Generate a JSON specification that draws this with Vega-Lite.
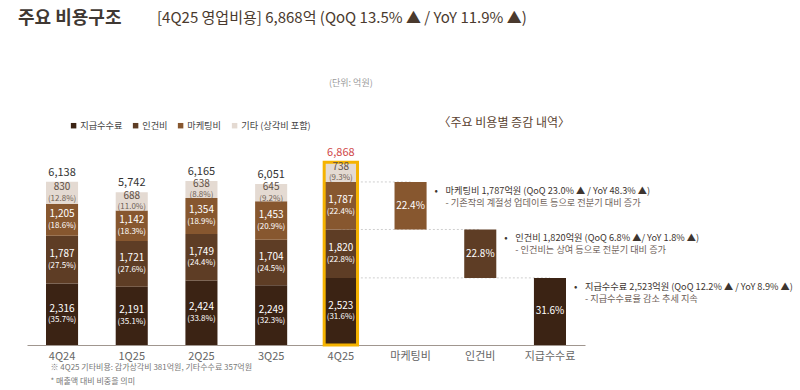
{
  "$schema": "https://vega.github.io/schema/vega-lite/v6.json",
  "width": 558,
  "height": 266,
  "autosize": {"type": "none"},
  "padding": {"left": 27, "top": 79, "right": 215, "bottom": 45},
  "background": "white",
  "config": {"view": {"stroke": null}, "font": "Noto Sans CJK KR"},
  "title": {
    "text": "주요 비용구조",
    "anchor": "start",
    "frame": "group",
    "dx": -9,
    "offset": -17,
    "fontSize": 18,
    "fontWeight": "bold",
    "color": "#3f3833",
    "font": "Noto Sans CJK KR"
  },
  "datasets": {
    "costs": [
      {"cat": "4Q24", "type": "지급수수료", "value": 2316, "pct": "(35.7%)"},
      {"cat": "4Q24", "type": "인건비", "value": 1787, "pct": "(27.5%)"},
      {"cat": "4Q24", "type": "마케팅비", "value": 1205, "pct": "(18.6%)"},
      {"cat": "4Q24", "type": "기타", "value": 830, "pct": "(12.8%)"},
      {"cat": "1Q25", "type": "지급수수료", "value": 2191, "pct": "(35.1%)"},
      {"cat": "1Q25", "type": "인건비", "value": 1721, "pct": "(27.6%)"},
      {"cat": "1Q25", "type": "마케팅비", "value": 1142, "pct": "(18.3%)"},
      {"cat": "1Q25", "type": "기타", "value": 688, "pct": "(11.0%)"},
      {"cat": "2Q25", "type": "지급수수료", "value": 2424, "pct": "(33.8%)"},
      {"cat": "2Q25", "type": "인건비", "value": 1749, "pct": "(24.4%)"},
      {"cat": "2Q25", "type": "마케팅비", "value": 1354, "pct": "(18.9%)"},
      {"cat": "2Q25", "type": "기타", "value": 638, "pct": "(8.8%)"},
      {"cat": "3Q25", "type": "지급수수료", "value": 2249, "pct": "(32.3%)"},
      {"cat": "3Q25", "type": "인건비", "value": 1704, "pct": "(24.5%)"},
      {"cat": "3Q25", "type": "마케팅비", "value": 1453, "pct": "(20.9%)"},
      {"cat": "3Q25", "type": "기타", "value": 645, "pct": "(9.2%)"},
      {"cat": "4Q25", "type": "지급수수료", "value": 2523, "pct": "(31.6%)"},
      {"cat": "4Q25", "type": "인건비", "value": 1820, "pct": "(22.8%)"},
      {"cat": "4Q25", "type": "마케팅비", "value": 1787, "pct": "(22.4%)"},
      {"cat": "4Q25", "type": "기타", "value": 738, "pct": "(9.3%)"}
    ],
    "changes": [
      {"cat": "마케팅비", "type": "마케팅비", "value": 1787, "pct": "22.4%", "head": "마케팅비 1,787억원 (QoQ 23.0% ▲ / YoY 48.3% ▲)", "note": "- 기존작의 계절성 업데이트 등으로 전분기 대비 증가"},
      {"cat": "인건비", "type": "인건비", "value": 1820, "pct": "22.8%", "head": "인건비 1,820억원 (QoQ 6.8% ▲/ YoY 1.8% ▲)", "note": "- 인건비는 상여 등으로 전분기 대비 증가"},
      {"cat": "지급수수료", "type": "지급수수료", "value": 2523, "pct": "31.6%", "head": "지급수수료 2,523억원 (QoQ 12.2% ▲ / YoY 8.9% ▲)", "note": "- 지급수수료율 감소 추세 지속"}
    ]
  },
  "encoding": {
    "x": {
      "field": "cat",
      "type": "nominal",
      "scale": {
        "domain": ["4Q24", "1Q25", "2Q25", "3Q25", "4Q25", "마케팅비", "인건비", "지급수수료"],
        "paddingInner": 0.54,
        "paddingOuter": 0.2726
      },
      "title": ["※ 4Q25 기타비용: 감가상각비 381억원, 기타수수료 357억원", "* 매출액 대비 비중을 의미"],
      "axis": {
        "labelAngle": 0,
        "ticks": false,
        "domainColor": "#a0968f",
        "domainWidth": 1,
        "labelColor": "#666666",
        "labelFontSize": 11,
        "labelPadding": 5,
        "titleAnchor": "start",
        "titleAlign": "left",
        "titleBaseline": "top",
        "titleX": 23,
        "titleY": 18,
        "titleFontSize": 8,
        "titleFontWeight": "normal",
        "titleColor": "#777777",
        "titleLineHeight": 14
      }
    }
  },
  "layer": [
    {
      "data": {"name": "changes"},
      "transform": [
        {"stack": "value", "groupby": [], "sort": [{"field": "type", "order": "descending"}], "as": ["y0", "y1"]}
      ],
      "mark": {"type": "rule", "color": "#cfcfcf", "strokeDash": [2, 2], "strokeWidth": 1},
      "encoding": {
        "x": {"datum": "4Q25", "type": "nominal"},
        "x2": {"field": "cat"},
        "y": {"field": "y1", "type": "quantitative", "scale": {"domain": [0, 10000], "nice": false}, "axis": null}
      }
    },
    {
      "data": {"name": "costs"},
      "transform": [
        {"stack": "value", "groupby": ["cat"], "sort": [{"field": "type", "order": "descending"}], "as": ["y0", "y1"]}
      ],
      "mark": {"type": "bar"},
      "encoding": {
        "y": {"field": "y0", "type": "quantitative", "scale": {"domain": [0, 10000], "nice": false}, "axis": null},
        "y2": {"field": "y1"},
        "color": {
          "field": "type",
          "type": "nominal",
          "scale": {
            "domain": ["지급수수료", "인건비", "마케팅비", "기타"],
            "range": ["#3b2314", "#5e3d25", "#87572f", "#e4dad2"]
          },
          "legend": {
            "orient": "none",
            "legendX": 42,
            "legendY": 42,
            "direction": "horizontal",
            "title": null,
            "symbolType": "square",
            "symbolSize": 30,
            "symbolStrokeWidth": 0,
            "labelFontSize": 9.2,
            "labelColor": "#444444",
            "columnPadding": 8,
            "labelOffset": 2,
            "labelExpr": "datum.label === '기타' ? '기타 (상각비 포함)' : datum.label"
          }
        }
      }
    },
    {
      "data": {"name": "changes"},
      "transform": [
        {"stack": "value", "groupby": [], "sort": [{"field": "type", "order": "descending"}], "as": ["y0", "y1"]}
      ],
      "mark": {"type": "bar"},
      "encoding": {
        "y": {"field": "y0", "type": "quantitative", "scale": {"domain": [0, 10000], "nice": false}, "axis": null},
        "y2": {"field": "y1"},
        "color": {"field": "type", "type": "nominal"}
      }
    },
    {
      "data": {"name": "costs"},
      "transform": [
        {"filter": "datum.cat === '4Q25'"},
        {"aggregate": [{"op": "sum", "field": "value", "as": "total"}], "groupby": ["cat"]}
      ],
      "mark": {"type": "bar", "fill": "white", "fillOpacity": 0, "stroke": "#f5b301", "strokeWidth": 3, "width": {"band": 1.04}},
      "encoding": {
        "y": {"field": "total", "type": "quantitative", "scale": {"domain": [0, 10000], "nice": false}, "axis": null}
      }
    },
    {
      "data": {"name": "costs"},
      "transform": [
        {"stack": "value", "groupby": ["cat"], "sort": [{"field": "type", "order": "descending"}], "as": ["y0", "y1"]},
        {"fold": ["y0", "y1"], "as": ["k", "v"]},
        {"aggregate": [{"op": "mean", "field": "v", "as": "mid"}], "groupby": ["cat", "type", "value", "pct"]}
      ],
      "mark": {"type": "text", "fontSize": 10, "dy": -5.5, "baseline": "middle"},
      "encoding": {
        "y": {"field": "mid", "type": "quantitative", "scale": {"domain": [0, 10000], "nice": false}, "axis": null},
        "text": {"field": "value", "type": "quantitative", "format": ","},
        "color": {"condition": {"test": "datum.type === '기타'", "value": "#5e4f45"}, "value": "#ffffff"}
      }
    },
    {
      "data": {"name": "costs"},
      "transform": [
        {"stack": "value", "groupby": ["cat"], "sort": [{"field": "type", "order": "descending"}], "as": ["y0", "y1"]},
        {"fold": ["y0", "y1"], "as": ["k", "v"]},
        {"aggregate": [{"op": "mean", "field": "v", "as": "mid"}], "groupby": ["cat", "type", "value", "pct"]}
      ],
      "mark": {"type": "text", "fontSize": 8, "dy": 6, "baseline": "middle"},
      "encoding": {
        "y": {"field": "mid", "type": "quantitative", "scale": {"domain": [0, 10000], "nice": false}, "axis": null},
        "text": {"field": "pct", "type": "nominal"},
        "color": {"condition": {"test": "datum.type === '기타'", "value": "#6e5f55"}, "value": "#ffffff"}
      }
    },
    {
      "data": {"name": "costs"},
      "transform": [
        {"aggregate": [{"op": "sum", "field": "value", "as": "total"}], "groupby": ["cat"]}
      ],
      "mark": {"type": "text", "fontSize": 11, "dy": -4, "baseline": "bottom"},
      "encoding": {
        "y": {"field": "total", "type": "quantitative", "scale": {"domain": [0, 10000], "nice": false}, "axis": null},
        "text": {"field": "total", "type": "quantitative", "format": ","},
        "color": {"condition": {"test": "datum.cat === '4Q25'", "value": "#d04848"}, "value": "#333333"}
      }
    },
    {
      "data": {"name": "changes"},
      "transform": [
        {"stack": "value", "groupby": [], "sort": [{"field": "type", "order": "descending"}], "as": ["y0", "y1"]},
        {"fold": ["y0", "y1"], "as": ["k", "v"]},
        {"aggregate": [{"op": "mean", "field": "v", "as": "mid"}], "groupby": ["cat", "pct"]}
      ],
      "mark": {"type": "text", "fontSize": 10, "color": "#ffffff", "baseline": "middle"},
      "encoding": {
        "y": {"field": "mid", "type": "quantitative", "scale": {"domain": [0, 10000], "nice": false}, "axis": null},
        "text": {"field": "pct", "type": "nominal"}
      }
    },
    {
      "data": {"name": "changes"},
      "transform": [
        {"stack": "value", "groupby": [], "sort": [{"field": "type", "order": "descending"}], "as": ["y0", "y1"]}
      ],
      "mark": {"type": "text", "text": "•", "fontSize": 10, "color": "#3d3530", "align": "left", "baseline": "middle", "dx": 24, "dy": 9},
      "encoding": {
        "y": {"field": "y1", "type": "quantitative", "scale": {"domain": [0, 10000], "nice": false}, "axis": null}
      }
    },
    {
      "data": {"name": "changes"},
      "transform": [
        {"stack": "value", "groupby": [], "sort": [{"field": "type", "order": "descending"}], "as": ["y0", "y1"]}
      ],
      "mark": {"type": "text", "fontSize": 9.2, "color": "#3d3530", "align": "left", "baseline": "middle", "dx": 35, "dy": 9},
      "encoding": {
        "y": {"field": "y1", "type": "quantitative", "scale": {"domain": [0, 10000], "nice": false}, "axis": null},
        "text": {"field": "head", "type": "nominal"}
      }
    },
    {
      "data": {"name": "changes"},
      "transform": [
        {"stack": "value", "groupby": [], "sort": [{"field": "type", "order": "descending"}], "as": ["y0", "y1"]}
      ],
      "mark": {"type": "text", "fontSize": 9.2, "color": "#6f625a", "align": "left", "baseline": "middle", "dx": 35, "dy": 21},
      "encoding": {
        "y": {"field": "y1", "type": "quantitative", "scale": {"domain": [0, 10000], "nice": false}, "axis": null},
        "text": {"field": "note", "type": "nominal"}
      }
    },
    {
      "data": {"values": [{"t": "[4Q25 영업비용] 6,868억 (QoQ 13.5% ▲ / YoY 11.9% ▲)"}]},
      "mark": {"type": "text", "fontSize": 15, "color": "#4a3a2e", "align": "left", "baseline": "middle", "dx": 95},
      "encoding": {
        "x": {"datum": "4Q24", "type": "nominal"},
        "y": {"datum": 12290, "type": "quantitative", "scale": {"domain": [0, 10000], "nice": false}, "axis": null},
        "text": {"field": "t", "type": "nominal"}
      }
    },
    {
      "data": {"values": [{"t": "(단위: 억원)"}]},
      "mark": {"type": "text", "fontSize": 9, "color": "#9a9a9a", "baseline": "middle", "dx": 10},
      "encoding": {
        "x": {"datum": "4Q25", "type": "nominal"},
        "y": {"datum": 9850, "type": "quantitative", "scale": {"domain": [0, 10000], "nice": false}, "axis": null},
        "text": {"field": "t", "type": "nominal"}
      }
    },
    {
      "data": {"values": [{"t": "〈주요 비용별 증감 내역〉"}]},
      "mark": {"type": "text", "fontSize": 12, "color": "#5b4332", "baseline": "middle", "dx": 24},
      "encoding": {
        "x": {"datum": "인건비", "type": "nominal"},
        "y": {"datum": 8346, "type": "quantitative", "scale": {"domain": [0, 10000], "nice": false}, "axis": null},
        "text": {"field": "t", "type": "nominal"}
      }
    }
  ]
}
